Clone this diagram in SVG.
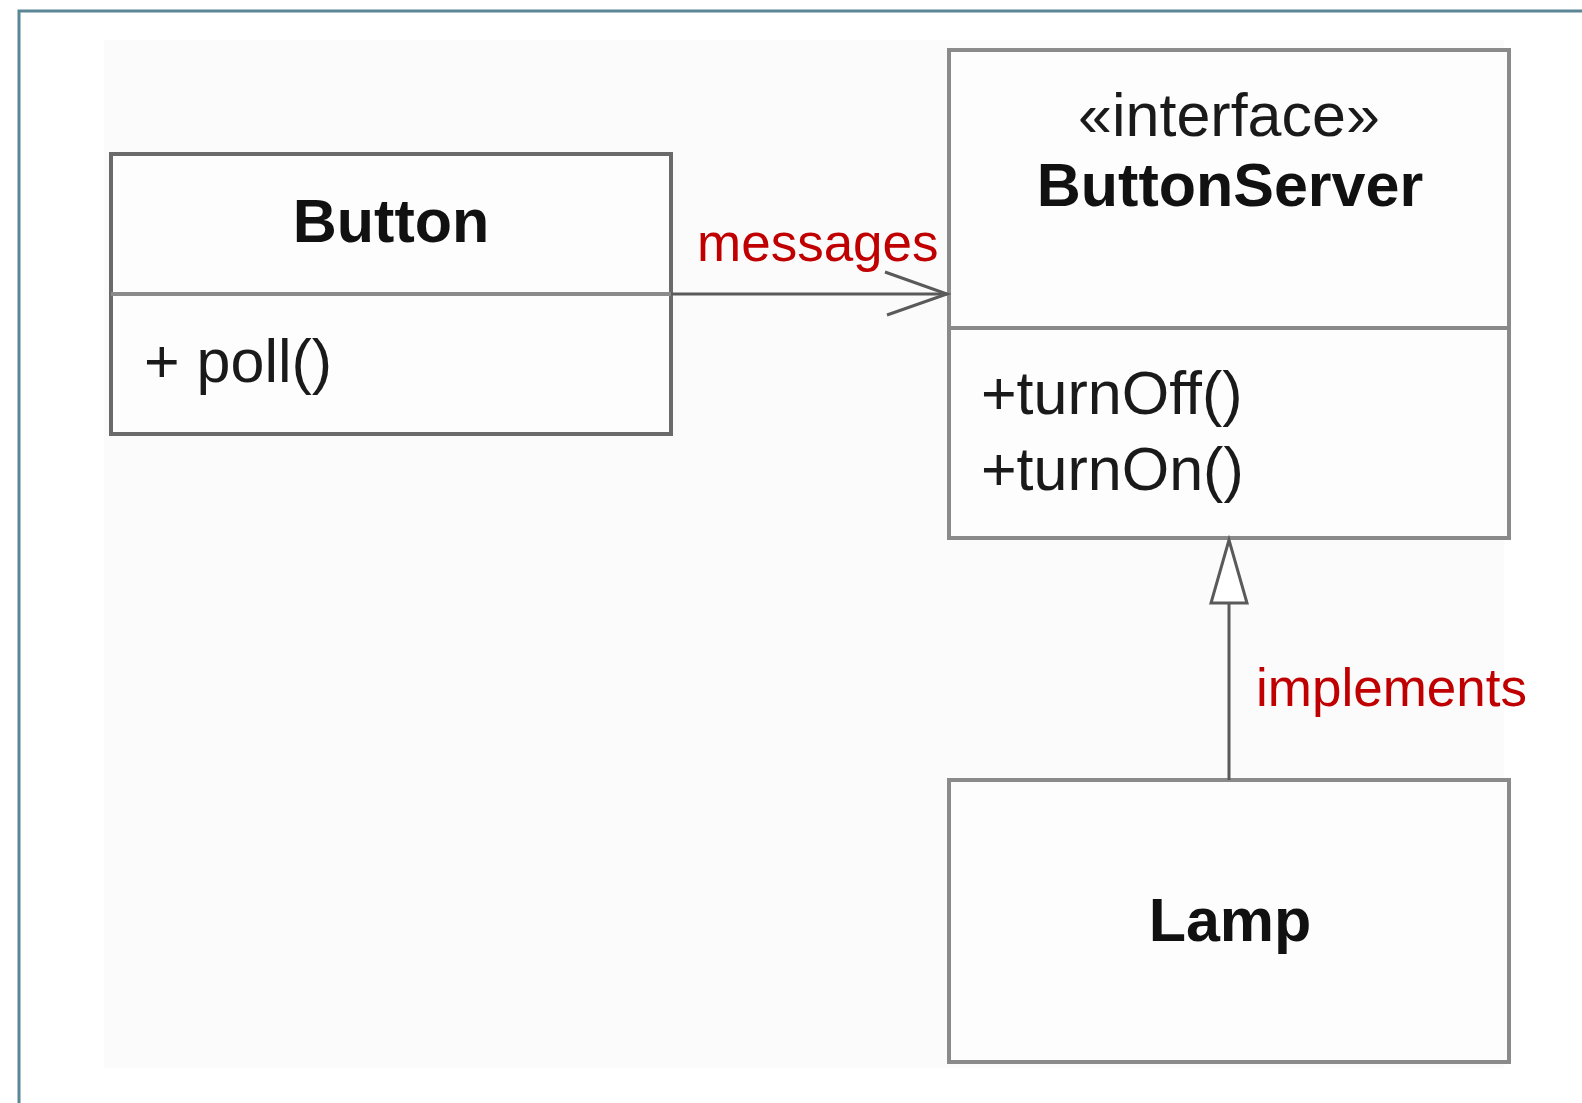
<svg xmlns="http://www.w3.org/2000/svg" width="1582" height="1103" viewBox="0 0 1582 1103">
<style>
.box{fill:#fdfdfd;stroke:#8a8a8a;stroke-width:4}
.dark{stroke:#6a6a6a}
.div{stroke:#8a8a8a;stroke-width:4}
.name{font-family:"Liberation Sans",Arial,sans-serif;font-weight:bold;font-size:61px;fill:#111;text-anchor:middle}
.op{font-family:"Liberation Sans",Arial,sans-serif;font-size:61px;fill:#1a1a1a}
.lbl{font-family:"Liberation Sans",Arial,sans-serif;font-size:53px;fill:#c00000}
.conn{stroke:#5a5a5a;stroke-width:3;fill:none}
</style>
<rect x="0" y="0" width="1582" height="1103" fill="#ffffff"/>
<path d="M19,1103 V11 H1582" fill="none" stroke="#5b8696" stroke-width="3"/>
<rect x="104" y="40" width="1400" height="1028" fill="#fbfbfb"/>
<g id="button">
<rect class="box dark" x="111" y="154" width="560" height="280"/>
<line class="div dark" x1="111" y1="294" x2="671" y2="294"/>
<text class="name" x="391" y="242">Button</text>
<text class="op" x="144" y="382">+ poll()</text>
</g>
<g id="buttonserver">
<rect class="box" x="949" y="50" width="560" height="488"/>
<line class="div" x1="949" y1="328" x2="1509" y2="328"/>
<text class="op" x="1229" y="136" text-anchor="middle" font-size="59">«interface»</text>
<text class="name" x="1230" y="206">ButtonServer</text>
<text class="op" x="981" y="414">+turnOff()</text>
<text class="op" x="981" y="490">+turnOn()</text>
</g>
<g id="lamp">
<rect class="box" x="949" y="780" width="560" height="282"/>
<text class="name" x="1230" y="941">Lamp</text>
</g>
<g id="connectors">
<line class="conn" x1="671" y1="294" x2="947" y2="294"/>
<polyline class="conn" points="885,272 947,294 887,315"/>
<line class="conn" x1="1229" y1="603" x2="1229" y2="780"/>
<polygon points="1229,540 1211,603 1247,603" fill="#ffffff" stroke="#5a5a5a" stroke-width="3" stroke-linejoin="miter"/>
<text class="lbl" x="697" y="261">messages</text>
<text class="lbl" x="1256" y="706">implements</text>
</g>
</svg>
